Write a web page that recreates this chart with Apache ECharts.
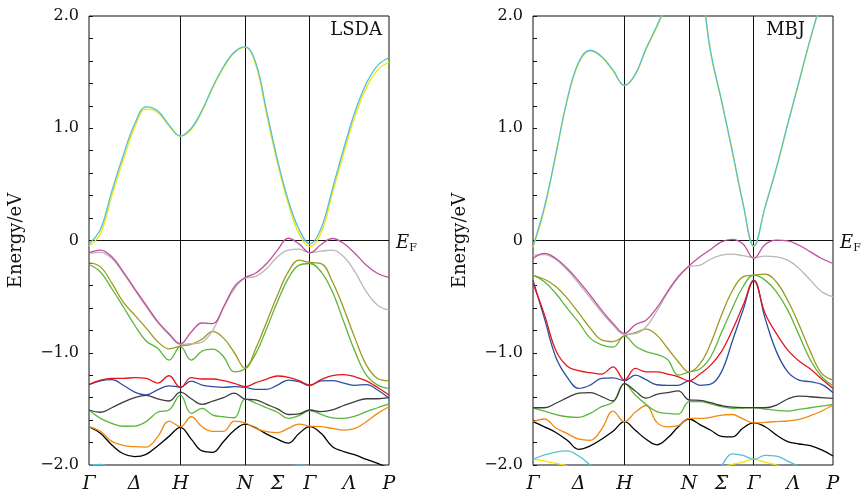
<!DOCTYPE html>
<html><head><meta charset="utf-8">
<script src="https://cdn.jsdelivr.net/npm/echarts@6/dist/echarts.min.js"></script>
<style>html,body{margin:0;padding:0;background:#fff}#c{width:863px;height:489px}</style>
</head><body><div id="c"></div>
<script>
// k-path (units of 2π/a): Γ H N Γ P
const kNodes = [0, 1, 1.7071, 2.4142, 3.2802];
const segDivisions = [8, 6, 6, 7];
const tickNames = ['Γ', 'Δ', 'H', 'N', 'Σ', 'Γ', 'Λ', 'P'];
const tickPos = [0, 0.5, 1, 1.7071, 2.0607, 2.4142, 2.8472, 3.2802];
const yTicks = [-2, -1, 0, 1, 2];

// ---- LSDA bands (eV) ----
const lsdaCyan    = [-0.03, 0.10, 0.44, 0.76, 1.04, 1.19, 1.155, 1.03, 0.93, 1.00, 1.16, 1.37, 1.55, 1.68, 1.725, 1.58, 1.15, 0.72, 0.36, 0.10, -0.03, 0.11, 0.46, 0.82, 1.15, 1.40, 1.56, 1.63];
const lsdaYellow  = [-0.05, 0.06, 0.40, 0.72, 1.01, 1.17, 1.14, 1.02, 0.93, 0.99, 1.15, 1.36, 1.54, 1.67, 1.72, 1.56, 1.12, 0.69, 0.33, 0.06, -0.055, 0.07, 0.42, 0.78, 1.11, 1.36, 1.52, 1.59];
const lsdaMagenta = [-0.11, -0.085, -0.145, -0.28, -0.43, -0.575, -0.72, -0.83, -0.92, -0.815, -0.735, -0.74, -0.59, -0.41, -0.33, -0.29, -0.205, -0.086, 0.02, -0.03, -0.11, -0.036, 0.018, -0.027, -0.116, -0.22, -0.294, -0.33];
const lsdaGray    = [-0.115, -0.105, -0.16, -0.29, -0.44, -0.59, -0.73, -0.84, -0.925, -0.92, -0.905, -0.80, -0.60, -0.43, -0.335, -0.32, -0.25, -0.145, -0.086, -0.077, -0.107, -0.095, -0.086, -0.145, -0.28, -0.457, -0.576, -0.62];
const lsdaOlive   = [-0.2, -0.235, -0.38, -0.55, -0.665, -0.78, -0.90, -0.965, -0.94, -0.925, -0.88, -0.81, -0.87, -1.00, -1.14, -0.96, -0.725, -0.487, -0.28, -0.175, -0.196, -0.205, -0.368, -0.605, -0.872, -1.11, -1.23, -1.25];
const lsdaGreen1  = [-0.214, -0.28, -0.43, -0.59, -0.755, -0.895, -0.96, -1.065, -0.946, -1.065, -0.985, -0.967, -1.035, -1.17, -1.14, -1.006, -0.783, -0.546, -0.338, -0.22, -0.205, -0.28, -0.457, -0.724, -0.99, -1.2, -1.288, -1.318];
const lsdaRed     = [-1.282, -1.243, -1.228, -1.228, -1.222, -1.228, -1.27, -1.205, -1.311, -1.222, -1.234, -1.234, -1.249, -1.273, -1.302, -1.267, -1.234, -1.207, -1.219, -1.249, -1.288, -1.24, -1.203, -1.195, -1.214, -1.25, -1.31, -1.377];
const lsdaBlue    = [-1.285, -1.25, -1.24, -1.29, -1.35, -1.375, -1.33, -1.295, -1.305, -1.252, -1.288, -1.302, -1.308, -1.302, -1.308, -1.326, -1.326, -1.288, -1.243, -1.258, -1.293, -1.25, -1.248, -1.27, -1.29, -1.284, -1.332, -1.406];
const lsdaDark    = [-1.51, -1.53, -1.49, -1.44, -1.40, -1.38, -1.41, -1.43, -1.35, -1.41, -1.46, -1.43, -1.40, -1.36, -1.413, -1.42, -1.46, -1.50, -1.55, -1.545, -1.51, -1.525, -1.51, -1.47, -1.435, -1.41, -1.41, -1.40];
const lsdaGreen2  = [-1.51, -1.585, -1.629, -1.655, -1.653, -1.614, -1.53, -1.51, -1.377, -1.54, -1.496, -1.555, -1.57, -1.579, -1.413, -1.45, -1.49, -1.53, -1.585, -1.56, -1.516, -1.55, -1.58, -1.585, -1.565, -1.525, -1.49, -1.455];
const lsdaOrange  = [-1.659, -1.70, -1.79, -1.825, -1.837, -1.84, -1.75, -1.61, -1.659, -1.57, -1.66, -1.70, -1.70, -1.61, -1.625, -1.674, -1.703, -1.712, -1.674, -1.635, -1.653, -1.659, -1.674, -1.689, -1.674, -1.614, -1.54, -1.481];
const lsdaBlack   = [-1.659, -1.718, -1.822, -1.90, -1.925, -1.905, -1.83, -1.745, -1.665, -1.77, -1.875, -1.887, -1.79, -1.69, -1.635, -1.67, -1.725, -1.77, -1.805, -1.72, -1.659, -1.718, -1.837, -1.88, -1.91, -1.95, -1.985, -2.03];
const lsdaCyanLow = [-2.005, -1.995, -2.04, null, null, null, null, null, null, null, null, null, null, null, null, null, null, null, -2.03, -1.998, -2.012, -2.06, null, null, null, null, null, null];

// ---- MBJ bands (eV) ----
const mbjCyan    = [-0.05, 0.30, 0.77, 1.26, 1.59, 1.695, 1.64, 1.517, 1.383, 1.48, 1.71, 1.91, 2.13, 2.33, 2.5, 2.3, 1.68, 1.25, 0.80, 0.33, -0.05, 0.30, 0.65, 1.04, 1.42, 1.80, 2.15, 2.5];
const mbjYellow  = [-0.06, 0.28, 0.76, 1.25, 1.58, 1.69, 1.635, 1.51, 1.38, 1.475, 1.70, 1.90, 2.12, 2.32, 2.5, 2.3, 1.67, 1.24, 0.79, 0.325, -0.05, 0.295, 0.64, 1.03, 1.41, 1.79, 2.14, 2.5];
const mbjMagenta = [-0.16, -0.115, -0.16, -0.249, -0.362, -0.487, -0.62, -0.739, -0.828, -0.75, -0.71, -0.60, -0.455, -0.32, -0.225, -0.145, -0.08, -0.012, 0.01, -0.032, -0.16, -0.036, 0.003, -0.003, -0.042, -0.101, -0.16, -0.205];
const mbjGray    = [-0.13, -0.125, -0.17, -0.264, -0.383, -0.51, -0.64, -0.754, -0.837, -0.83, -0.77, -0.63, -0.465, -0.33, -0.235, -0.22, -0.165, -0.13, -0.122, -0.135, -0.15, -0.14, -0.145, -0.175, -0.249, -0.353, -0.457, -0.501];
const mbjOlive   = [-0.31, -0.345, -0.41, -0.515, -0.645, -0.78, -0.885, -0.90, -0.85, -0.82, -0.79, -0.843, -0.96, -1.08, -1.17, -1.10, -0.917, -0.665, -0.45, -0.324, -0.309, -0.30, -0.37, -0.535, -0.75, -0.99, -1.184, -1.243];
const mbjGreen1  = [-0.309, -0.368, -0.472, -0.605, -0.73, -0.87, -0.93, -0.95, -0.85, -0.94, -0.99, -1.015, -1.06, -1.20, -1.17, -1.145, -1.036, -0.82, -0.605, -0.412, -0.309, -0.353, -0.457, -0.62, -0.843, -1.065, -1.214, -1.294];
const mbjRed     = [-0.383, -0.66, -0.98, -1.12, -1.16, -1.178, -1.19, -1.125, -1.243, -1.14, -1.17, -1.17, -1.19, -1.214, -1.25, -1.19, -1.11, -0.99, -0.80, -0.58, -0.36, -0.65, -0.83, -0.976, -1.074, -1.145, -1.234, -1.318];
const mbjBlue    = [-0.353, -0.694, -1.04, -1.22, -1.318, -1.288, -1.228, -1.223, -1.249, -1.20, -1.24, -1.285, -1.29, -1.29, -1.25, -1.29, -1.28, -1.17, -0.90, -0.62, -0.353, -0.694, -0.99, -1.17, -1.243, -1.258, -1.282, -1.356];
const mbjDark    = [-1.49, -1.49, -1.45, -1.40, -1.36, -1.355, -1.39, -1.43, -1.275, -1.34, -1.405, -1.37, -1.355, -1.34, -1.42, -1.425, -1.445, -1.47, -1.485, -1.488, -1.488, -1.49, -1.466, -1.412, -1.386, -1.392, -1.40, -1.407];
const mbjGreen2  = [-1.49, -1.52, -1.55, -1.57, -1.575, -1.54, -1.48, -1.44, -1.275, -1.377, -1.46, -1.525, -1.54, -1.546, -1.436, -1.435, -1.455, -1.48, -1.495, -1.492, -1.49, -1.502, -1.513, -1.52, -1.505, -1.49, -1.475, -1.46];
const mbjOrange  = [-1.614, -1.59, -1.67, -1.72, -1.77, -1.78, -1.68, -1.52, -1.614, -1.53, -1.47, -1.62, -1.66, -1.65, -1.585, -1.585, -1.575, -1.555, -1.55, -1.59, -1.625, -1.62, -1.614, -1.608, -1.593, -1.561, -1.519, -1.466];
const mbjBlack   = [-1.614, -1.66, -1.71, -1.78, -1.86, -1.83, -1.77, -1.70, -1.614, -1.69, -1.77, -1.82, -1.76, -1.66, -1.59, -1.64, -1.69, -1.745, -1.75, -1.67, -1.625, -1.659, -1.733, -1.792, -1.813, -1.828, -1.866, -1.92];
const mbjCyanLow   = [-1.95, -1.91, -1.885, -1.875, -1.92, -2.0, -2.1, null, null, null, null, null, null, null, null, null, -2.15, -2.01, -1.90, -1.915, -1.95, -1.915, -1.92, -1.965, -2.02, -2.12, null, null];
const mbjYellowLow = [-1.945, -1.965, -1.985, -2.01, -2.05, null, null, null, null, null, null, null, null, null, null, null, -2.06, -2.02, -1.995, -1.975, -1.95, -1.975, -2.0, -2.04, null, null, null, null];

const COLORS = {
  cyan: '#52c1d6', yellow: '#f2e600', magenta: '#c04f9d', gray: '#b8b8b8', olive: '#9c9a1e',
  green: '#5db53c', red: '#e8141c', blue: '#2c4e9e', dark: '#3c3c3c', orange: '#f28a10', black: '#000000'
};
const FONT = 'DejaVu Serif';

const kGrid = [];
for (let s = 0; s < 4; s++) {
  const n = segDivisions[s];
  for (let j = (s === 0 ? 0 : 1); j <= n; j++) {
    kGrid.push(kNodes[s] + (kNodes[s + 1] - kNodes[s]) * j / n);
  }
}

function band(values, color, gi) {
  return {
    type: 'line', xAxisIndex: gi, yAxisIndex: gi,
    data: values.map((v, i) => [kGrid[i], v === null ? '-' : v]),
    showSymbol: false, symbol: 'none', smooth: 0.4, clip: true, silent: true, z: 3,
    lineStyle: { color: color, width: 1.3 }, itemStyle: { color: color }
  };
}

function refLines(gi) {
  return {
    type: 'line', xAxisIndex: gi, yAxisIndex: gi, data: [], silent: true, z: 2,
    markLine: {
      silent: true, symbol: ['none', 'none'], animation: false, z: 2,
      lineStyle: { color: '#111', width: 1, type: 'solid' },
      label: { show: false }, emphasis: { disabled: true },
      data: [
        { xAxis: kNodes[1] }, { xAxis: kNodes[2] }, { xAxis: kNodes[3] },
        { yAxis: 0, label: { show: true, position: 'end', distance: 7, offset: [0, 3], formatter: '{e|E}{f|F}',
            rich: { e: { fontFamily: FONT, fontStyle: 'italic', fontSize: 18, color: '#111' },
                    f: { fontFamily: FONT, fontSize: 11, color: '#111', padding: [9, 0, 0, 0] } } } }
      ]
    }
  };
}

function fmtE(v) {
  if (Math.abs(v) < 1e-9) return '0';
  return (v < 0 ? '\u2212' : '') + Math.abs(v).toFixed(1);
}
function fmtK(v) {
  let best = 0;
  tickPos.forEach((p, i) => { if (Math.abs(p - v) < Math.abs(tickPos[best] - v)) best = i; });
  return tickNames[best];
}

function xAxisCfg(gi) {
  return {
    type: 'value', gridIndex: gi, min: kNodes[0], max: kNodes[4],
    axisLine: { show: false }, axisTick: { show: false }, splitLine: { show: false },
    axisLabel: { customValues: tickPos, formatter: fmtK, fontFamily: FONT, fontStyle: 'italic',
      fontSize: 19, color: '#111', margin: 10 }
  };
}
function yAxisCfg(gi) {
  return {
    type: 'value', gridIndex: gi, min: yTicks[0], max: yTicks[yTicks.length - 1], interval: 1,
    name: 'Energy/eV', nameLocation: 'middle', nameGap: 64,
    nameTextStyle: { fontFamily: FONT, fontSize: 18, color: '#111' },
    axisLine: { show: false },
    axisTick: { show: true, inside: true, length: 4, lineStyle: { color: '#111' } },
    minorTick: { show: true, splitNumber: 5, length: 4, lineStyle: { color: '#111' } },
    splitLine: { show: false },
    axisLabel: { fontFamily: FONT, fontSize: 16, color: '#111', margin: 10, formatter: fmtE }
  };
}

const series = [
  refLines(0),
  band(lsdaCyanLow, COLORS.cyan, 0),
  band(lsdaBlack, COLORS.black, 0),
  band(lsdaOrange, COLORS.orange, 0),
  band(lsdaGreen2, COLORS.green, 0),
  band(lsdaDark, COLORS.dark, 0),
  band(lsdaBlue, COLORS.blue, 0),
  band(lsdaRed, COLORS.red, 0),
  band(lsdaGreen1, COLORS.green, 0),
  band(lsdaOlive, COLORS.olive, 0),
  band(lsdaGray, COLORS.gray, 0),
  band(lsdaMagenta, COLORS.magenta, 0),
  band(lsdaYellow, COLORS.yellow, 0),
  band(lsdaCyan, COLORS.cyan, 0),
  refLines(1),
  band(mbjYellowLow, COLORS.yellow, 1),
  band(mbjCyanLow, COLORS.cyan, 1),
  band(mbjBlack, COLORS.black, 1),
  band(mbjOrange, COLORS.orange, 1),
  band(mbjGreen2, COLORS.green, 1),
  band(mbjDark, COLORS.dark, 1),
  band(mbjBlue, COLORS.blue, 1),
  band(mbjRed, COLORS.red, 1),
  band(mbjGreen1, COLORS.green, 1),
  band(mbjOlive, COLORS.olive, 1),
  band(mbjGray, COLORS.gray, 1),
  band(mbjMagenta, COLORS.magenta, 1),
  band(mbjYellow, COLORS.yellow, 1),
  band(mbjCyan, COLORS.cyan, 1)
];

const chart = echarts.init(document.getElementById('c'));
chart.setOption({
  animation: false,
  backgroundColor: '#fff',
  title: [
    { text: 'LSDA', right: 481, top: 21, padding: 0, textStyle: { fontFamily: FONT, fontWeight: 'normal', fontSize: 18, color: '#111' } },
    { text: 'MBJ', right: 58, top: 21, padding: 0, textStyle: { fontFamily: FONT, fontWeight: 'normal', fontSize: 18, color: '#111' } }
  ],
  grid: [
    { left: 89, top: 16, width: 300, height: 449, containLabel: false, outerBoundsMode: 'none',
      show: true, borderColor: '#111', borderWidth: 1, backgroundColor: 'transparent' },
    { left: 533, top: 16, width: 300, height: 449, containLabel: false, outerBoundsMode: 'none',
      show: true, borderColor: '#111', borderWidth: 1, backgroundColor: 'transparent' }
  ],
  xAxis: [xAxisCfg(0), xAxisCfg(1)],
  yAxis: [yAxisCfg(0), yAxisCfg(1)],
  series: series
});
</script>
</body></html>
